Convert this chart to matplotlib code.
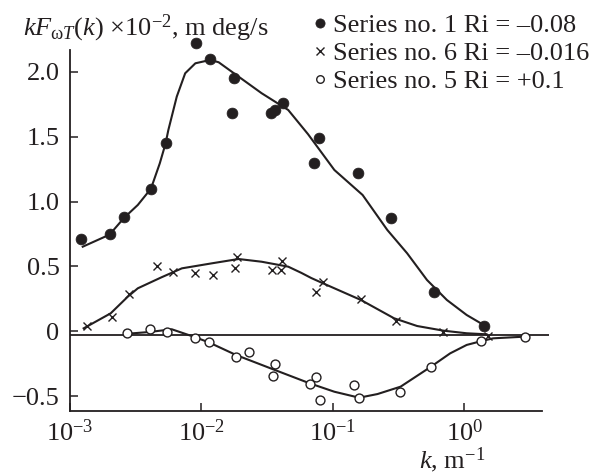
import matplotlib
matplotlib.use("Agg")
import matplotlib.pyplot as plt

plt.rcParams["font.family"] = ["Liberation Serif", "DejaVu Serif"]
plt.rcParams["mathtext.fontset"] = "custom"
plt.rcParams["mathtext.rm"] = "Liberation Serif"
plt.rcParams["mathtext.it"] = "Liberation Serif:italic"
plt.rcParams["mathtext.bf"] = "Liberation Serif:bold"

INK = "#231f20"
FS = 19

# --- measured spectra (k in 1/m, kF in 1e-2 m deg/s) ---
k_s1 = [1.21e-3, 2.00e-3, 2.58e-3, 4.13e-3, 5.33e-3, 9.14e-3, 1.17e-2, 1.76e-2,
        1.71e-2, 3.37e-2, 3.61e-2, 4.14e-2, 7.9e-2, 7.24e-2, 0.154, 0.275, 0.583, 1.42]
v_s1 = [0.71, 0.75, 0.88, 1.10, 1.45, 2.22, 2.10, 1.95,
        1.68, 1.68, 1.71, 1.76, 1.49, 1.30, 1.22, 0.87, 0.30, 0.04]

k_s6 = [1.35e-3, 2.10e-3, 2.83e-3, 4.60e-3, 6.04e-3, 8.99e-3, 1.22e-2, 1.79e-2,
        1.88e-2, 3.46e-2, 4.06e-2, 4.11e-2, 7.46e-2, 8.39e-2, 0.163, 0.303, 0.687, 1.52]
v_s6 = [0.04, 0.11, 0.29, 0.50, 0.46, 0.45, 0.43, 0.49,
        0.575, 0.47, 0.47, 0.54, 0.305, 0.38, 0.245, 0.075, -0.005, -0.035]

k_s5 = [2.70e-3, 4.04e-3, 5.43e-3, 8.99e-3, 1.14e-2, 1.84e-2, 2.30e-2, 3.61e-2,
        3.48e-2, 6.65e-2, 7.46e-2, 7.91e-2, 0.145, 0.158, 0.323, 0.557, 1.35, 2.88]
v_s5 = [-0.015, 0.015, -0.008, -0.055, -0.086, -0.197, -0.160, -0.255,
        -0.343, -0.41, -0.356, -0.531, -0.415, -0.513, -0.467, -0.274, -0.076, -0.042]

# --- hand-drawn smoothing curves ---
k_fit1 = [1.25e-3, 2.00e-3, 2.58e-3, 3.28e-3, 4.13e-3, 4.82e-3, 5.33e-3, 5.60e-3,
          6.49e-3, 7.52e-3, 8.99e-3, 1.169e-2, 1.352e-2, 2.871e-2, 4.571e-2,
          6.471e-2, 0.1026, 0.1683, 0.2594, 0.3673, 0.5200, 0.7362, 1.042, 1.476]
v_fit1 = [0.652, 0.745, 0.875, 0.974, 1.10, 1.295, 1.447, 1.552,
          1.81, 1.99, 2.067, 2.093, 2.075, 1.836, 1.707,
          1.52, 1.244, 1.051, 0.781, 0.601, 0.395, 0.241, 0.125, 0.035]

k_fit6 = [1.27e-3, 2.04e-3, 2.75e-3, 3.28e-3, 4.97e-3, 7.10e-3, 1.205e-2, 1.914e-2,
          2.871e-2, 4.571e-2, 5.754e-2, 6.855e-2, 8.395e-2, 0.1633, 0.2917,
          0.4375, 0.6950, 1.042, 1.476]
v_fit6 = [0.022, 0.138, 0.266, 0.331, 0.416, 0.485, 0.524, 0.557,
          0.536, 0.498, 0.450, 0.41, 0.370, 0.241, 0.100,
          0.040, 0.004, -0.016, -0.024]

k_fit5 = [2.70e-3, 4.04e-3, 5.94e-3, 8.99e-3, 1.138e-2, 1.837e-2, 3.614e-2, 6.653e-2,
          0.1026, 0.1585, 0.2183, 0.3273, 0.5572, 0.7798, 1.042, 1.352, 1.656, 2.884]
v_fit5 = [-0.02, -0.006, 0.015, -0.047, -0.086, -0.184, -0.299, -0.402,
          -0.467, -0.513, -0.485, -0.428, -0.274, -0.171, -0.106, -0.076, -0.055, -0.042]

labels = ["Series no. 1 Ri = \u20130.08",
          "Series no. 6 Ri = \u20130.016",
          "Series no. 5 Ri = +0.1"]

x_ticks = [1e-3, 1e-2, 1e-1, 1e0]
x_ticklabels = [r"$10^{-3}$", r"$10^{-2}$", r"$10^{-1}$", r"$10^{0}$"]
y_ticks = [-0.5, 0.0, 0.5, 1.0, 1.5, 2.0]
y_ticklabels = ["\u22120.5", "0", "0.5", "1.0", "1.5", "2.0"]

y_title = "$kF_{\\mathrm{\\omega}T}(k)$ \u00d710$^{-2}$, m deg/s"
x_title = "$k$, m$^{-1}$"

fig = plt.figure(figsize=(6.0, 4.76), dpi=100)
ax = fig.add_axes([70 / 600, 65.3 / 476, 479.3 / 600, 377.6 / 476])

ax.set_xscale("log")
ax.set_xlim(1e-3, 4.43)
ax.set_ylim(-0.6134, 2.3)

ax.axhline(-0.03, color=INK, lw=1.3, zorder=1)

ax.plot(k_fit1, v_fit1, color=INK, lw=1.5, zorder=2)
ax.plot(k_fit6, v_fit6, color=INK, lw=1.5, zorder=2)
ax.plot(k_fit5, v_fit5, color=INK, lw=1.5, zorder=2)

h1, = ax.plot(k_s1, v_s1, ls="none", marker="o", ms=7.8, mfc=INK, mec=INK,
              mew=0.5, zorder=3)
h6, = ax.plot(k_s6, v_s6, ls="none", marker="x", ms=6.2, mec=INK, mew=1.0,
              zorder=3)
h5, = ax.plot(k_s5, v_s5, ls="none", marker="o", ms=6.4, mfc="white", mec=INK,
              mew=1.0, zorder=4)

for side in ("top", "right"):
    ax.spines[side].set_visible(False)
for side in ("left", "bottom"):
    ax.spines[side].set_color(INK)
    ax.spines[side].set_linewidth(1.3)
ax.spines["left"].set_bounds(-0.6134, 2.17)
ax.spines["bottom"].set_bounds(1e-3, 3.93)

ax.set_xticks(x_ticks)
ax.set_xticklabels(x_ticklabels)
ax.xaxis.set_minor_locator(matplotlib.ticker.NullLocator())
ax.set_yticks(y_ticks)
ax.set_yticklabels(y_ticklabels)
ax.tick_params(axis="both", direction="in", length=6, width=1.1, color=INK,
               labelcolor=INK, labelsize=FS)
ax.tick_params(axis="y", pad=7.5)
ax.tick_params(axis="x", pad=6)

fig.text(23 / 600, 1 - 35 / 476, y_title,
         ha="left", va="baseline", fontsize=FS, color=INK)
fig.text(452 / 600, 1 - 468 / 476, x_title,
         ha="center", va="baseline", fontsize=FS, color=INK)

leg = fig.legend([h1, h6, h5], labels, loc="upper left",
                 bbox_to_anchor=(313.4 / 600, 1 - 14 / 476),
                 frameon=False, fontsize=FS, handlelength=0.5,
                 handletextpad=0.24, labelspacing=0.17, borderpad=0,
                 borderaxespad=0, markerscale=0.85)
for t in leg.get_texts():
    t.set_color(INK)

fig.savefig("out.png", dpi=100)
